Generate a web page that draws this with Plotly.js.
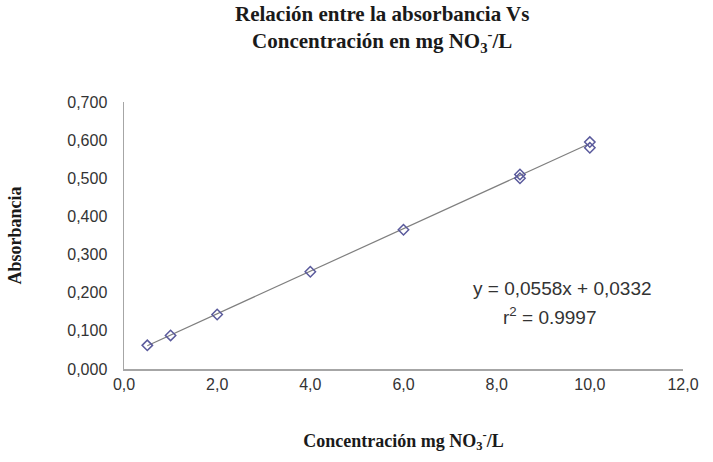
<!DOCTYPE html>
<html>
<head>
<meta charset="utf-8">
<script src="https://cdn.plot.ly/plotly-3.0.1.min.js"></script>
<style>html,body{margin:0;padding:0;background:#fff;}#chart{width:713px;height:462px;}</style>
</head>
<body>
<div id="chart"></div>
<script>
// Data
var concentracion = [0.5, 1.0, 2.0, 4.0, 6.0, 8.5, 8.5, 10.0, 10.0];
var absorbancia   = [0.062, 0.088, 0.143, 0.255, 0.365, 0.510, 0.500, 0.595, 0.580];
var slope = 0.0558;
var intercept = 0.0332;
var trendX = [0.5, 10.0];
var xTicks = [0, 2, 4, 6, 8, 10, 12];
var yTicks = [0, 0.1, 0.2, 0.3, 0.4, 0.5, 0.6, 0.7];

var trendY = trendX.map(function (x) { return slope * x + intercept; });

var serif = 'Liberation Serif, Times New Roman, serif';
var sans = 'Liberation Sans, Arial, sans-serif';

var traces = [
  {
    x: trendX, y: trendY, type: 'scatter', mode: 'lines',
    line: {color: '#7f7f7f', width: 1.2}, hoverinfo: 'skip', showlegend: false
  },
  {
    x: concentracion, y: absorbancia, type: 'scatter', mode: 'markers',
    marker: {symbol: 'diamond-open', size: 8, color: '#5a5a9c', line: {width: 1.5, color: '#5a5a9c'}},
    showlegend: false
  }
];

var layout = {
  width: 713, height: 462,
  margin: {l: 124, r: 30, t: 102, b: 93},
  paper_bgcolor: '#ffffff', plot_bgcolor: '#ffffff',
  separators: ',.',
  xaxis: {
    range: [0, 12], tickvals: xTicks, tickformat: '.1f',
    showgrid: false, zeroline: false, showline: true, linecolor: '#a6a6a6', linewidth: 1.5,
    ticks: '', ticklabelstandoff: 0, tickfont: {family: sans, size: 16, color: '#333333'},
    title: {text: '<b>Concentración mg NO<sub>3</sub><sup>-</sup>/L</b>', font: {family: serif, size: 18, color: '#1a1a1a'}, standoff: 42}
  },
  yaxis: {
    range: [0, 0.7], tickvals: yTicks, tickformat: '.3f',
    showgrid: false, zeroline: false, showline: true, linecolor: '#a6a6a6', linewidth: 1.5,
    ticks: '', ticklabelstandoff: 12, tickfont: {family: sans, size: 16, color: '#333333'},
    title: {text: '<b>Absorbancia</b>', font: {family: serif, size: 18, color: '#1a1a1a'}, standoff: 41}
  },
  annotations: [
    {
      xref: 'paper', yref: 'paper', x: 0.462, y: 1.275, xanchor: 'center', yanchor: 'middle',
      text: '<b>Relación entre la absorbancia Vs<br>Concentración en mg NO<sub>3</sub><sup>-</sup>/L</b>',
      showarrow: false, font: {family: serif, size: 21, color: '#1a1a1a'}
    },
    {
      xref: 'paper', yref: 'paper', x: 0.784, y: 0.30, xanchor: 'center', yanchor: 'middle',
      text: 'y = 0,0558x + 0,0332', showarrow: false,
      font: {family: sans, size: 19, color: '#333333'}
    },
    {
      xref: 'paper', yref: 'paper', x: 0.762, y: 0.199, xanchor: 'center', yanchor: 'middle',
      text: 'r<sup>2</sup> = 0.9997', showarrow: false,
      font: {family: sans, size: 19, color: '#333333'}
    }
  ]
};

Plotly.newPlot('chart', traces, layout, {staticPlot: true, displayModeBar: false});
</script>
</body>
</html>
